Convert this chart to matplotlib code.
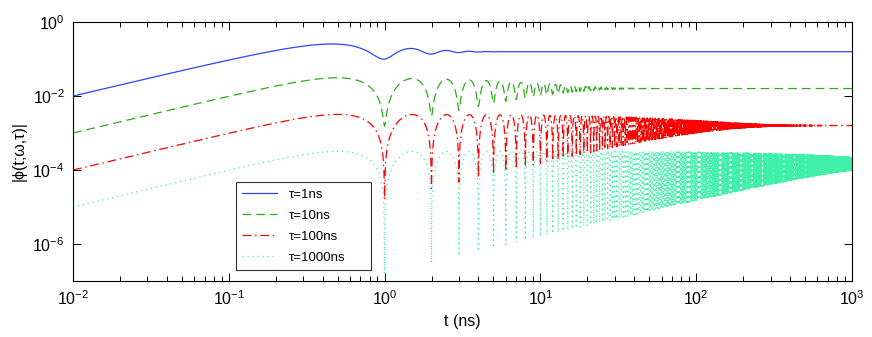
import numpy as np
import matplotlib
matplotlib.use("Agg")
import matplotlib.pyplot as plt
from matplotlib.ticker import LogLocator, NullFormatter

plt.rcParams['font.family'] = ['Liberation Sans', 'DejaVu Sans']
plt.rcParams['mathtext.fontset'] = 'custom'
plt.rcParams['mathtext.rm'] = 'Liberation Sans'
plt.rcParams['mathtext.it'] = 'Liberation Sans:italic'
plt.rcParams['path.simplify'] = False

# ---- data (parameters) ----
taus = [1, 10, 100, 1000]                      # ns, from legend
labels = ["τ=1ns", "τ=10ns", "τ=100ns", "τ=1000ns"]
period = 1.0                                   # ns, dips at t = 1, 2, 3, ...
t_step = 0.01                                  # ns
t_min, t_max = 0.01, 1000.0
x_ticks = [1e-2, 1e-1, 1e0, 1e1, 1e2, 1e3]
y_ticks = [1e-6, 1e-4, 1e-2, 1e0]

colors = ['#2a46ff', '#2eaa1a', '#ff0000', '#3ff0a8']
styles = ['-', (0, (7, 4)), (0, (7, 3, 1.2, 3)), (0, (1, 3))]

omega = 2 * np.pi / period
t = np.arange(1, int(round(t_max / t_step)) + 1) * t_step

fig = plt.figure(figsize=(8.72, 3.37), dpi=100)
ax = fig.add_axes([73 / 872, 1 - 281 / 337, (852 - 73) / 872, (281 - 22) / 337])

for tau, lab, c, ls in zip(taus, labels, colors, styles):
    phi = np.abs(np.exp(1j * omega * t) - np.exp(-t / tau)) / np.abs(1 + 1j * omega * tau)
    ax.loglog(t, phi, color=c, linestyle=ls, lw=0.9, label=lab)

ax.set_xlim(t_min, t_max)
ax.set_ylim(1e-7, 1e0)
ax.set_xticks(x_ticks)
ax.set_yticks(y_ticks)
ax.xaxis.set_minor_locator(LogLocator(base=10, subs=np.arange(2, 10), numticks=20))
ax.xaxis.set_minor_formatter(NullFormatter())
ax.yaxis.set_minor_locator(matplotlib.ticker.NullLocator())

ax.tick_params(which='both', direction='in', top=True, right=True, labelsize=11.5, width=0.7)
ax.tick_params(which='major', length=6)
ax.tick_params(which='minor', length=3.5)
ax.tick_params(axis='x', pad=6)
ax.tick_params(axis='y', pad=6)
for s in ax.spines.values():
    s.set_linewidth(0.8)

ax.set_xlabel("t (ns)", fontsize=11.5, labelpad=4)
ax.set_ylabel("|ϕ(t;ω,τ)|", fontsize=11.5, labelpad=4)

leg = ax.legend(loc='lower left', bbox_to_anchor=(0.209, 0.042, 0.174, 0.367), mode='expand',
                fontsize=9.5, frameon=True, fancybox=False, edgecolor='black',
                handlelength=2.6, borderpad=0.5, labelspacing=0.65, handletextpad=0.9,
                borderaxespad=0)
leg.get_frame().set_linewidth(0.8)

fig.savefig("out.png", dpi=100)
